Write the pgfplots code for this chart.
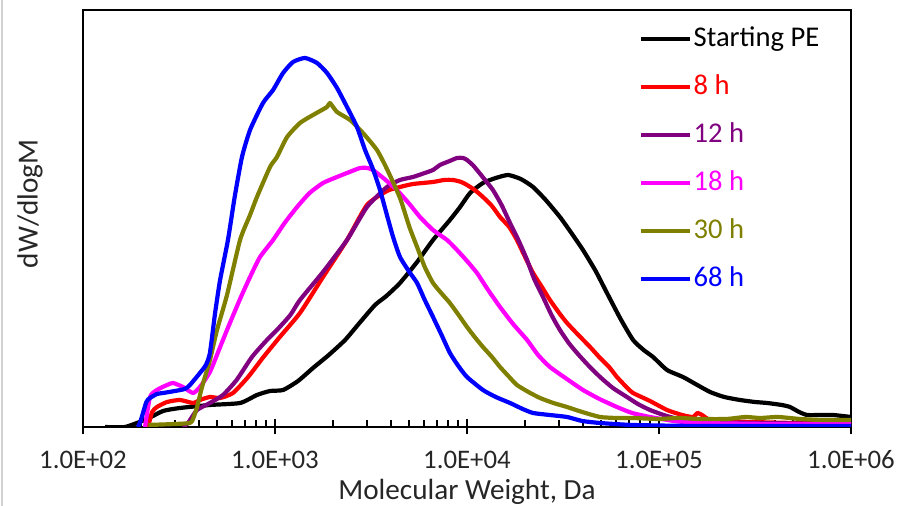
\documentclass[border=0pt]{standalone}
\usepackage{pgfplots}
\pgfplotsset{compat=1.18}
\usepackage{fontspec}
\setmainfont{Carlito}
\definecolor{cPurple}{RGB}{128,0,128}
\definecolor{cOlive}{RGB}{128,128,0}
\definecolor{cMagenta}{RGB}{255,0,255}
\definecolor{cRed}{RGB}{255,0,0}
\definecolor{cBlue}{RGB}{0,0,255}
\definecolor{txt}{RGB}{38,38,38}

\begin{document}
\begin{tikzpicture}
\begin{axis}[
    scale only axis,
    width=384pt, height=208.5pt,
    xmin=2, xmax=6, ymin=0, ymax=417,
    xtick={2,3,4,5,6},
    xticklabels={1.0E+02,1.0E+03,1.0E+04,1.0E+05,1.0E+06},
    minor xtick={2.301,2.477,2.602,2.699,2.778,2.845,2.903,2.954,
                 3.301,3.477,3.602,3.699,3.778,3.845,3.903,3.954,
                 4.301,4.477,4.602,4.699,4.778,4.845,4.903,4.954,
                 5.301,5.477,5.602,5.699,5.778,5.845,5.903,5.954},
    ytick=\empty,
    xtick pos=lower,
    xtick align=center,
    major tick length=7.5pt,
    minor tick length=3.5pt,
    minor x tick style={yshift=1.75pt},
    axis line style={line width=1pt},
    every tick/.style={line width=1pt, black},
    tick label style={font=\fontsize{13.4}{15}\selectfont, text=txt},
    xticklabel style={anchor=center, inner sep=0pt, yshift=-12.5pt},
    xlabel={Molecular Weight, Da},
    ylabel={dW/dlogM},
    label style={font=\fontsize{14.6}{16}\selectfont, text=txt, inner sep=0pt},
    xlabel style={at={(axis description cs:0.5,0)}, anchor=center, yshift=-32.5pt},
    ylabel style={at={(axis description cs:-0.069,0.535)}, anchor=center},
    legend style={at={(rel axis cs:0.7227,0.967)}, anchor=north west, draw=none, fill=none,
        inner sep=0pt, row sep=9pt,
        font=\fontsize{14.3}{16}\selectfont,
        nodes={inner sep=1pt, text height=10pt, text depth=3pt}},
    legend cell align=left,
    legend image code/.code={\draw[#1] (0pt,0pt) -- (24.5pt,0pt);},
    every axis plot/.append style={line width=2.1pt, line join=round, smooth, tension=0.35},
]
% Starting PE
\addplot[black] coordinates {
(2.115,0) (2.219,0) (2.333,8) (2.417,16) (2.505,19) (2.661,22) (2.818,24)
(2.906,32) (2.974,36) (3.042,37) (3.120,46) (3.198,59) (3.280,72) (3.365,87)
(3.440,104) (3.521,122) (3.580,131) (3.651,144) (3.740,165) (3.823,187) (3.911,207)
(3.964,220) (4.016,234) (4.083,244) (4.150,249) (4.214,252) (4.280,248) (4.344,240)
(4.410,227) (4.484,210) (4.540,195) (4.604,177) (4.670,156) (4.729,134) (4.800,108)
(4.865,87) (4.920,77) (4.969,70) (5.042,57) (5.125,50) (5.190,43)
(5.266,35) (5.340,30) (5.422,27) (5.500,25) (5.563,24) (5.640,22) (5.682,20)
(5.730,15) (5.771,12) (5.840,12) (5.906,12) (6,10)
};
\addlegendentry{Starting PE}
% 8 h
\addplot[cRed] coordinates {
(2.339,0) (2.360,15) (2.385,20) (2.438,25) (2.505,27) (2.573,24) (2.609,27)
(2.661,30) (2.714,29) (2.781,34) (2.860,50) (2.940,70) (3.025,90) (3.130,114)
(3.250,150) (3.375,187) (3.479,222) (3.583,236) (3.651,240) (3.719,243) (3.823,245)
(3.880,247) (3.927,247) (3.970,245) (4.0,242) (4.040,237) (4.083,230) (4.130,221)
(4.172,210) (4.220,200) (4.260,187) (4.300,171) (4.344,154) (4.390,140)
(4.432,127) (4.480,114) (4.521,104) (4.580,92) (4.641,80) (4.693,69) (4.740,60)
(4.781,50) (4.830,40) (4.865,34) (4.953,26) (5.042,17) (5.120,12) (5.177,10)
(5.200,14) (5.224,12) (5.266,7) (5.350,6) (5.474,5) (5.700,4) (6,3)
};
\addlegendentry{\textcolor{cRed}{8 h}}
% 12 h
\addplot[cPurple] coordinates {
(2.520,0) (2.547,4) (2.594,17) (2.661,24) (2.729,32) (2.800,47) (2.880,70)
(2.958,87) (3.010,97) (3.080,112) (3.130,127) (3.250,155) (3.375,187) (3.479,220)
(3.583,240) (3.651,247) (3.719,250) (3.780,254) (3.823,257) (3.859,262) (3.910,266)
(3.948,269) (3.980,269) (4.0,267) (4.030,262) (4.052,257) (4.090,248) (4.135,237)
(4.180,222) (4.224,204) (4.270,186) (4.313,167) (4.350,148) (4.396,130)
(4.440,112) (4.484,97) (4.530,84) (4.573,74) (4.630,62) (4.693,50) (4.760,39)
(4.833,30) (4.890,23) (4.953,17) (5.040,11) (5.125,7) (5.214,5) (5.500,4) (6,3)
};
\addlegendentry{\textcolor{cPurple}{12 h}}
% 18 h
\addplot[cMagenta] coordinates {
(2.323,0) (2.349,30) (2.385,37) (2.438,42) (2.469,44) (2.521,40) (2.573,34)
(2.609,40) (2.661,55) (2.710,78) (2.75,97) (2.818,128) (2.870,150) (2.922,170)
(2.990,187) (3.050,204) (3.115,220) (3.180,234) (3.25,244) (3.310,249) (3.375,254)
(3.443,259) (3.480,259) (3.510,257) (3.570,248) (3.635,237) (3.700,223) (3.755,210)
(3.823,197) (3.896,187) (3.948,177) (4.0,166) (4.052,154) (4.110,137)
(4.172,120) (4.240,103) (4.313,87) (4.370,72) (4.432,60) (4.520,48) (4.604,37)
(4.690,28) (4.781,20) (4.860,14) (4.953,10) (5.080,6) (5.214,4) (5.600,3) (6,3)
};
\addlegendentry{\textcolor{cMagenta}{18 h}}
% 30 h
\addplot[cOlive] coordinates {
(2.340,2) (2.479,3) (2.557,4) (2.573,8) (2.594,20) (2.620,40) (2.661,67)
(2.698,97) (2.75,132) (2.818,187) (2.870,212) (2.906,230) (2.974,260) (3.010,270)
(3.063,290) (3.130,304) (3.198,312) (3.271,320) (3.286,324) (3.323,315)
(3.391,307) (3.458,294) (3.531,277) (3.583,258) (3.651,229) (3.700,200) (3.740,180)
(3.780,160) (3.823,144) (3.870,133) (3.911,124) (3.960,111) (4.0,100) (4.040,90) (4.083,80)
(4.130,70) (4.172,60) (4.220,50) (4.260,42) (4.320,35) (4.380,29) (4.450,24)
(4.521,20) (4.600,15) (4.693,10) (4.780,9) (4.865,9) (5.000,8) (5.100,9) (5.214,8)
(5.350,8) (5.450,10) (5.526,9) (5.620,10) (5.734,8) (5.850,7) (6,7)
};
\addlegendentry{\textcolor{cOlive}{30 h}}
% 68 h
\addplot[cBlue] coordinates {
(2.286,0) (2.300,6) (2.330,25) (2.349,29) (2.385,33) (2.417,34) (2.479,36)
(2.530,38) (2.557,42) (2.609,54) (2.640,62) (2.661,74) (2.688,114) (2.714,147)
(2.755,187) (2.790,230) (2.828,270) (2.870,297) (2.9375,324) (2.990,337)
(3.042,354) (3.094,365) (3.156,369) (3.219,364) (3.271,354) (3.323,339)
(3.375,320) (3.427,300) (3.469,277) (3.510,258) (3.547,237) (3.580,214) (3.615,190)
(3.651,170) (3.700,155) (3.740,144) (3.780,127) (3.823,110) (3.870,91) (3.911,74)
(3.955,61) (4.0,50) (4.083,37) (4.150,30) (4.224,24) (4.290,18) (4.344,14)
(4.430,12) (4.521,10) (4.600,6) (4.693,4) (4.865,2) (5.214,1) (6,1)
};
\addlegendentry{\textcolor{cBlue}{68 h}}
\end{axis}
\pgfresetboundingbox
\path[use as bounding box] (-41.5pt,-39.5pt) rectangle (408pt,213.5pt);
\draw[black!18, line width=0.8pt] (-40.6pt,-39.5pt) -- (-40.6pt,213.5pt);
\end{tikzpicture}
\end{document}
